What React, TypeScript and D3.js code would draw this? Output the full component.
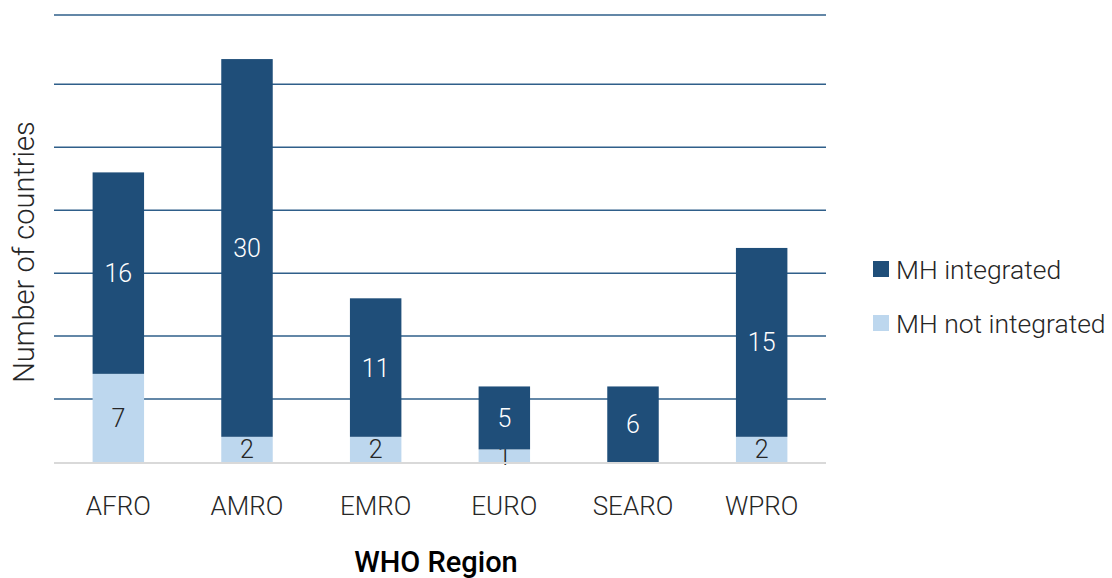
import React, { useEffect, useRef } from 'react';
import * as d3 from 'd3';

const regions = ['AFRO', 'AMRO', 'EMRO', 'EURO', 'SEARO', 'WPRO'];
const notIntegrated = [7, 2, 2, 1, 0, 2];
const integrated = [16, 30, 11, 5, 6, 15];
const gridTicks = [5, 10, 15, 20, 25, 30];
const seriesNames = ['MH integrated', 'MH not integrated'];

const WIDTH = 1112;
const HEIGHT = 578;
const DARK = '#1f4e79';
const LIGHT = '#bdd7ee';
const FONT = 'Roboto, "Noto Sans", sans-serif';

export default function App() {
  const svgRef = useRef<SVGSVGElement>(null);

  useEffect(() => {
    if (!svgRef.current) return;
    const svg = d3.select(svgRef.current);
    svg.selectAll('*').remove();

    const margin = { top: 15, right: 286, bottom: 116, left: 54 };

    const x = d3.scaleBand()
      .domain(regions)
      .range([margin.left, WIDTH - margin.right])
      .paddingInner(0.6)
      .paddingOuter(0.3);

    const y = d3.scaleLinear()
      .domain([0, 35.5])
      .range([HEIGHT - margin.bottom, margin.top]);

    // gridlines
    svg.append('g')
      .selectAll('line')
      .data([...gridTicks, 35.5])
      .join('line')
      .attr('x1', margin.left)
      .attr('x2', WIDTH - margin.right)
      .attr('y1', d => y(d))
      .attr('y2', d => y(d))
      .attr('stroke', '#2f5f8a')
      .attr('stroke-width', 1.5);

    const rows = regions.map((r, i) => ({ region: r, notIntegrated: notIntegrated[i], integrated: integrated[i] }));
    const stack = d3.stack<any>().keys(['notIntegrated', 'integrated'])(rows);
    const colors = [LIGHT, DARK];
    const textColors = ['#262626', '#ffffff'];

    stack.forEach((layer, li) => {
      const g = svg.append('g');
      g.selectAll('rect')
        .data(layer.filter(d => d[1] - d[0] > 0))
        .join('rect')
        .attr('x', d => x(d.data.region)!)
        .attr('width', x.bandwidth())
        .attr('y', d => y(d[1]))
        .attr('height', d => y(d[0]) - y(d[1]))
        .attr('fill', colors[li]);

      g.selectAll('text')
        .data(layer.filter(d => d[1] - d[0] > 0))
        .join('text')
        .attr('x', d => x(d.data.region)! + x.bandwidth() / 2)
        .attr('y', d => (y(d[0]) + y(d[1])) / 2)
        .attr('dy', '0.36em')
        .attr('text-anchor', 'middle')
        .attr('font-family', FONT)
        .attr('font-weight', 300)
        .attr('font-size', 25)
        .attr('fill', textColors[li])
        .text(d => String(d[1] - d[0]));
    });

    // baseline
    svg.append('line')
      .attr('x1', margin.left)
      .attr('x2', WIDTH - margin.right)
      .attr('y1', y(0) + 1)
      .attr('y2', y(0) + 1)
      .attr('stroke', '#d9d9d9')
      .attr('stroke-width', 2);

    // x tick labels
    svg.append('g')
      .selectAll('text')
      .data(regions)
      .join('text')
      .attr('x', d => x(d)! + x.bandwidth() / 2)
      .attr('y', 506)
      .attr('dy', '0.36em')
      .attr('text-anchor', 'middle')
      .attr('font-family', FONT)
      .attr('font-weight', 300)
      .attr('font-size', 26)
      .attr('fill', '#262626')
      .text(d => d);

    // axis titles
    svg.append('text')
      .attr('x', 436)
      .attr('y', 562)
      .attr('dy', '0.36em')
      .attr('text-anchor', 'middle')
      .attr('font-family', FONT)
      .attr('font-weight', 500)
      .attr('font-size', 29)
      .attr('fill', '#000')
      .text('WHO Region');

    svg.append('text')
      .attr('transform', `translate(24, 252) rotate(-90)`)
      .attr('dy', '0.36em')
      .attr('text-anchor', 'middle')
      .attr('font-family', FONT)
      .attr('font-weight', 300)
      .attr('font-size', 29)
      .attr('fill', '#262626')
      .text('Number of countries');

    // legend
    const legend = svg.append('g');
    const legendColors = [DARK, LIGHT];
    seriesNames.forEach((name, i) => {
      const ly = 269 + i * 54;
      legend.append('rect')
        .attr('x', 873)
        .attr('y', ly - 8)
        .attr('width', 16)
        .attr('height', 16)
        .attr('fill', legendColors[i]);
      legend.append('text')
        .attr('x', 896)
        .attr('y', ly)
        .attr('dy', '0.36em')
        .attr('font-family', FONT)
        .attr('font-weight', 300)
        .attr('font-size', 26.5)
        .attr('fill', '#262626')
        .text(name);
    });
  }, []);

  return (
    <svg
      ref={svgRef}
      width={WIDTH}
      height={HEIGHT}
      style={{ position: 'absolute', left: 0, top: 0, background: '#fff' }}
    />
  );
}
